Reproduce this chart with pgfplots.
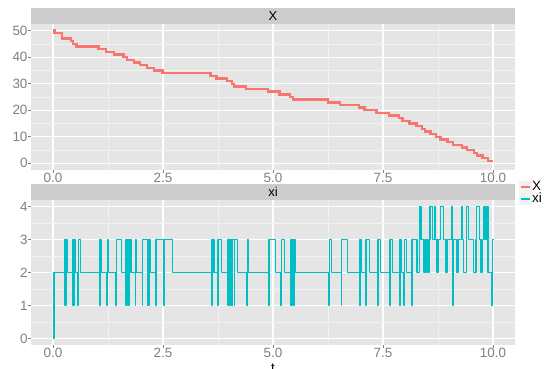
\documentclass[border=0pt]{standalone}
\usepackage{fontspec}
\setmainfont{Liberation Sans}
\usepackage{pgfplots}
\pgfplotsset{compat=1.18}
\definecolor{panelbg}{HTML}{E5E5E5}
\definecolor{stripbg}{HTML}{CCCCCC}
\definecolor{gridminor}{HTML}{F2F2F2}
\definecolor{ticktext}{HTML}{7F7F7F}
\definecolor{redX}{HTML}{F8766D}
\definecolor{cyanxi}{HTML}{00BFC4}
\pgfplotsset{
 gg/.style={
  scale only axis, width=484bp, xmin=-0.5, xmax=10.5,
  axis background/.style={fill=panelbg},
  axis line style={draw=none},
  grid=both,
  major grid style={white, line width=1.1bp},
  minor grid style={gridminor, line width=0.5bp},
  xtick={0,2.5,5,7.5,10},
  xticklabels={0.0,2.5,5.0,7.5,10.0},
  minor xtick={1.25,3.75,6.25,8.75},
  tick pos=left, tick align=outside,
  major tick length=3bp, minor tick length=0pt,
  tick style={ticktext, line width=0.8bp},
  tick label style={font=\fontsize{13.5}{14}\selectfont, text=ticktext},
  /pgf/number format/assume math mode=true,
  xticklabel style={yshift=3.5bp},
  yticklabel style={xshift=3bp},
  every axis title/.style={at={(0.5,1)}, anchor=south, fill=stripbg, minimum width=484bp, minimum height=16bp, inner sep=0pt, font=\fontsize{13}{14}\selectfont},
 }
}
\begin{document}
\begin{tikzpicture}
\begin{axis}[gg, at={(31bp,199bp)}, anchor=south west, height=146bp,
  ymin=-2.5, ymax=52.5, ytick={0,10,20,30,40,50}, minor ytick={5,15,25,35,45},
  title={X}]
\addplot[const plot, redX, line width=2.4bp] coordinates {
(0,50)(0.03,49)(0.21,47)(0.41,46)(0.46,45)(0.53,44)(1.03,43)(1.20,42)(1.38,41)(1.60,40)(1.68,39)(1.84,38)(1.98,37)(2.13,36)(2.29,35)(2.49,34)(3.58,33)(3.72,32)(3.95,31)(4.07,30)(4.11,29)(4.39,28)(4.88,27)(5.15,26)(5.38,25)(5.45,24)(6.25,23)(6.52,22)(6.96,21)(7.08,20)(7.35,19)(7.63,18)(7.87,17)(7.94,16)(8.10,15)(8.26,14)(8.38,13)(8.46,12)(8.58,11)(8.70,10)(8.81,9)(8.97,8)(9.09,7)(9.29,6)(9.41,5)(9.57,4)(9.64,3)(9.76,2)(9.88,1)(10,1)
};
\end{axis}
\begin{axis}[gg, at={(31bp,24bp)}, anchor=south west, height=145bp,
  ymin=-0.2, ymax=4.2, ytick={0,1,2,3,4}, minor ytick={0.5,1.5,2.5,3.5},
  title={xi},
  xlabel={t}, xlabel style={at={(axis description cs:0.5,0)}, anchor=north, yshift=-19bp, inner sep=0pt, font=\fontsize{13.5}{14}\selectfont},
  legend style={at={(1.008,1.135)}, anchor=north west, draw=none, fill=none, font=\fontsize{13.5}{14}\selectfont, row sep=0bp, inner sep=0pt, nodes={inner sep=0bp}},
  legend cell align=left,
  legend image code/.code={\fill[gridminor] (0bp,-5bp) rectangle (11bp,5bp); \draw[#1] (1bp,0bp) -- (10bp,0bp);}]
\addlegendimage{redX, line width=2bp}
\addlegendentry{X}
\addlegendimage{cyanxi, line width=2bp}
\addlegendentry{xi}
\addplot[const plot, cyanxi, line width=1.4bp, line join=bevel, forget plot] coordinates {
(0,0)(0.02,2)
(0.26,1)(0.268,3)(0.28,1)(0.288,3)(0.30,1)(0.308,3)(0.33,2)
(0.45,1)(0.458,3)(0.48,1)(0.488,3)(0.51,2)
(0.57,1)(0.578,3)(0.62,2)
(1.06,1)(1.068,3)(1.09,2)
(1.23,1)(1.238,3)(1.25,2)
(1.43,1)(1.438,3)(1.56,2)
(1.65,1)(1.658,3)(1.70,1)(1.708,3)(1.72,1)(1.728,3)(1.77,2)
(1.87,1)(1.878,3)(1.89,2)
(2.03,1)(2.038,3)(2.15,1)(2.158,3)(2.17,1)(2.178,3)(2.21,2)
(2.33,1)(2.338,3)(2.52,1)(2.528,3)(2.71,2)
(3.61,1)(3.618,3)(3.66,2)
(3.74,1)(3.748,3)(3.83,2)
(3.97,1)(3.978,3)(4.02,1)(4.028,3)(4.06,1)(4.068,3)(4.12,1)(4.128,3)(4.19,2)
(4.41,1)(4.418,3)(4.43,2)
(4.90,1)(4.908,3)(5.05,2)
(5.18,1)(5.188,3)(5.26,2)
(5.40,1)(5.408,3)(5.44,1)(5.448,3)(5.47,1)(5.478,3)(5.50,2)
(6.27,1)(6.278,3)(6.33,2)
(6.55,1)(6.558,3)(6.69,2)
(6.97,1)(6.978,3)(7.01,2)
(7.11,1)(7.118,3)(7.19,2)
(7.38,1)(7.388,3)(7.44,2)
(7.65,1)(7.658,3)(7.72,2)
(7.88,1)(7.888,3)(7.92,2)
(7.98,1)(7.988,3)(8.04,2)
(8.15,1)(8.158,3)(8.27,2)
(8.33,4)(8.36,3)(8.43,2)(8.48,3)(8.52,2)(8.56,3)(8.57,4)(8.63,3)(8.68,4)(8.69,3)(8.73,2)(8.75,3)(8.80,4)(8.87,3)(8.92,2)(8.95,3)(9.05,4)(9.07,3)(9.09,1)(9.098,3)(9.17,2)(9.20,3)(9.29,4)(9.30,3)(9.33,2)(9.40,4)(9.44,3)(9.56,2)(9.61,3)(9.63,4)(9.69,3)(9.73,2)(9.76,3)(9.78,4)(9.82,3)(9.86,4)(9.89,2)(9.96,1)(9.992,3)(10,3)
};
\end{axis}
\pgfresetboundingbox
\useasboundingbox (0,0) rectangle (545bp,369bp);
\end{tikzpicture}
\end{document}
